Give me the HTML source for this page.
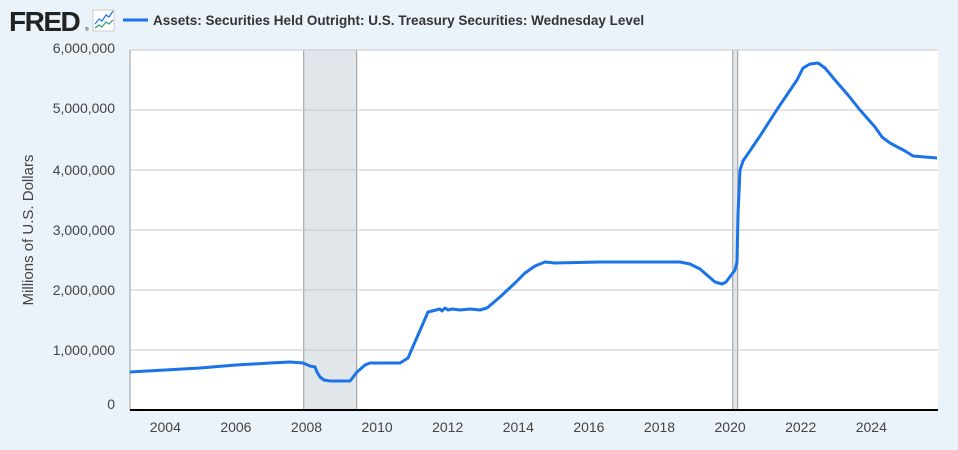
<!DOCTYPE html>
<html><head><style>
body{margin:0;background:#eaf2fa;}
svg{display:block;font-family:"Liberation Sans",sans-serif;}
</style></head><body>
<svg width="958" height="450" viewBox="0 0 958 450">
<rect width="958" height="450" fill="#eaf2fa"/>
<text x="9" y="31" font-size="28" font-weight="bold" fill="#222" letter-spacing="-1.5">FRED</text>
<text x="85" y="31" font-size="5" fill="#222">®</text>
<rect x="93" y="10" width="21" height="21" fill="#fff" stroke="#bbb" stroke-width="0.7"/>
<polyline points="95,24 99,19 102,21 106,15 109,17 113,11" fill="none" stroke="#1a73e8" stroke-width="1.2"/>
<polyline points="95,28 99,25 102,27 106,22 109,24 113,20" fill="none" stroke="#2a9d7a" stroke-width="1.2"/>
<line x1="123" y1="20" x2="148" y2="20" stroke="#1a73e8" stroke-width="3"/>
<text x="153" y="25" font-size="13.5" font-weight="bold" fill="#333">Assets: Securities Held Outright: U.S. Treasury Securities: Wednesday Level</text>
<rect x="130" y="50" width="808" height="360" fill="#fff"/>
<rect x="303.7" y="50" width="53" height="360" fill="#e1e6eb"/>
<line x1="303.7" y1="50" x2="303.7" y2="410" stroke="#999" stroke-width="1"/>
<line x1="356.7" y1="50" x2="356.7" y2="410" stroke="#999" stroke-width="1"/>
<rect x="732.7" y="50" width="5" height="360" fill="#e1e6eb"/>
<line x1="732.7" y1="50" x2="732.7" y2="410" stroke="#999" stroke-width="1"/>
<line x1="737.7" y1="50" x2="737.7" y2="410" stroke="#999" stroke-width="1"/>
<g stroke="#c8c8c8" stroke-width="1">
<line x1="130" y1="50" x2="938" y2="50"/>
<line x1="130" y1="110" x2="938" y2="110"/>
<line x1="130" y1="170" x2="938" y2="170"/>
<line x1="130" y1="230" x2="938" y2="230"/>
<line x1="130" y1="290" x2="938" y2="290"/>
<line x1="130" y1="350" x2="938" y2="350"/>
</g>
<line x1="130" y1="50" x2="130" y2="410" stroke="#999" stroke-width="1"/>
<line x1="130" y1="410" x2="938" y2="410" stroke="#000" stroke-width="2"/>
<g font-size="14" fill="#444" text-anchor="end">
<text x="115" y="53">6,000,000</text>
<text x="115" y="113">5,000,000</text>
<text x="115" y="175">4,000,000</text>
<text x="115" y="235">3,000,000</text>
<text x="115" y="295">2,000,000</text>
<text x="115" y="355">1,000,000</text>
<text x="115" y="409">0</text>
</g>
<g font-size="14" fill="#444" text-anchor="middle">
<text x="165.3" y="432">2004</text>
<text x="235.9" y="432">2006</text>
<text x="306.5" y="432">2008</text>
<text x="377.1" y="432">2010</text>
<text x="447.7" y="432">2012</text>
<text x="518.3" y="432">2014</text>
<text x="588.9" y="432">2016</text>
<text x="659.5" y="432">2018</text>
<text x="730.1" y="432">2020</text>
<text x="800.7" y="432">2022</text>
<text x="871.3" y="432">2024</text>
</g>
<text transform="translate(33,230) rotate(-90)" font-size="15" fill="#444" text-anchor="middle">Millions of U.S. Dollars</text>
<polyline fill="none" stroke="#1a73e8" stroke-width="3" stroke-linejoin="round" points="130,372 165,370 200,368 236,365 270,363 290,362 303,363 310,366 315,367 317,372 320,377 324,380 330,381 350,381 357,372 365,365 370,363 400,363 408,358 418,335 428,312 440,309 442,311 445,308 448,310 452,309 460,310 470,309 480,310 487,308 500,297 515,283 525,273 535,266 545,262 555,263 600,262 650,262 680,262 690,264 700,269 715,282 722,284 726,282 735,270 737,262 738,215 740,170 743,161 760,136 778,108 797,80 803,68 810,64 818,63 825,68 835,80 848,95 860,110 875,127 882,137 890,143 905,151 913,156 937,158"/>
</svg>
</body></html>
